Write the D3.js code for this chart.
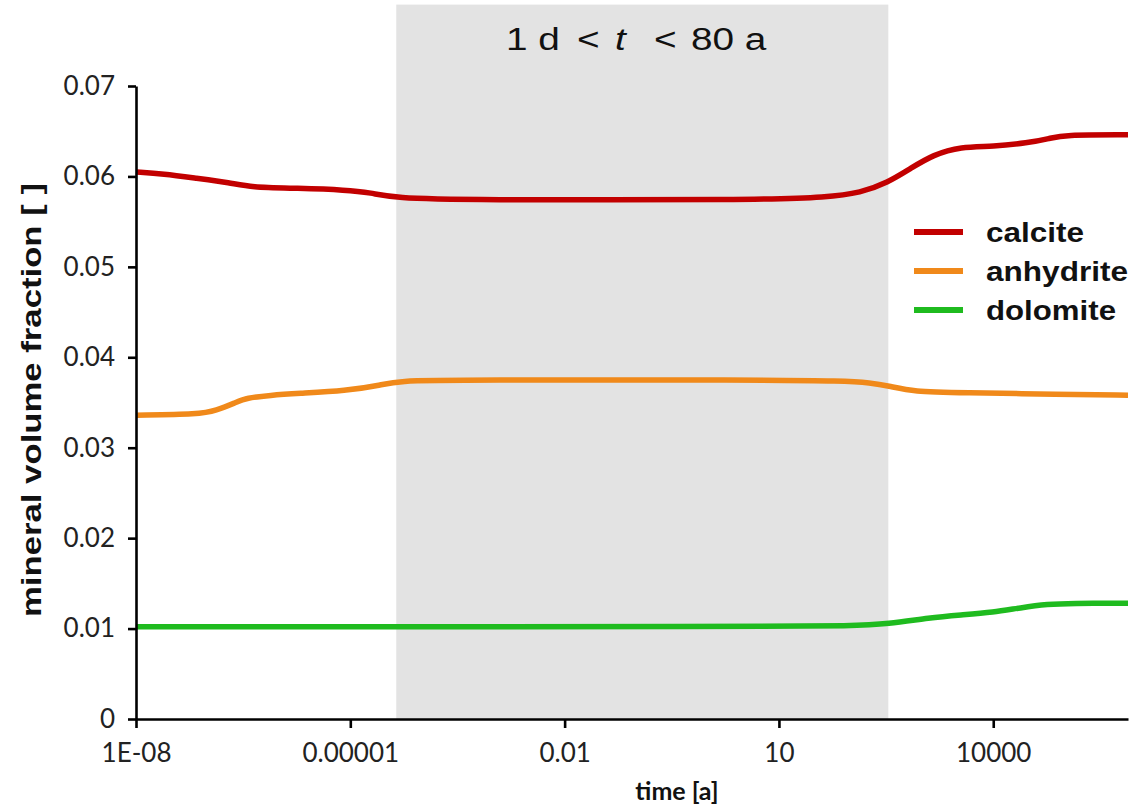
<!DOCTYPE html>
<html><head><meta charset="utf-8">
<script src="https://cdn.jsdelivr.net/npm/d3@7"></script>
<style>html,body{margin:0;padding:0;background:#fff;}svg{display:block;}</style>
</head><body>
<svg id="chart" width="1132" height="808"></svg>
<script>
// ---- data ----
const seriesNames = ["calcite", "anhydrite", "dolomite"];
const seriesColors = ["#c20000", "#f0891a", "#1fbb1f"];
const calcite = [
  [1e-8, 0.0605], [2.4e-8, 0.0603], [7e-8, 0.0598], [2.1e-7, 0.0593], [4e-7, 0.0588],
  [1.8e-6, 0.0587], [9e-6, 0.0585], [1.9e-5, 0.0582], [4.4e-5, 0.0576], [3.5e-4, 0.0574],
  [5.5, 0.0574], [47, 0.0577], [140, 0.0582], [330, 0.0593], [700, 0.0609],
  [1450, 0.0624], [3500, 0.0633], [1e4, 0.0633], [3e4, 0.0637], [6.3e4, 0.0642],
  [9.3e4, 0.0646], [7.7e5, 0.0646]
];
const anhydrite = [
  [1e-8, 0.0336], [7.9e-8, 0.0337], [1.3e-7, 0.0341], [2.5e-7, 0.0350], [3.5e-7, 0.0355],
  [7.6e-7, 0.0358], [1.8e-6, 0.0360], [8.9e-6, 0.0363], [2.6e-5, 0.0369], [4.5e-5, 0.0374],
  [3.5e-4, 0.0375], [5.5, 0.0375], [79, 0.0374], [190, 0.0372], [360, 0.0368],
  [760, 0.0362], [3500, 0.0361], [8.7e4, 0.0359], [7.7e5, 0.0358]
];
const dolomite = [
  [1e-8, 0.0102], [8, 0.0102], [100, 0.0103], [340, 0.0105], [1300, 0.0112],
  [3500, 0.0115], [1e4, 0.0118], [2.4e4, 0.0123], [5.9e4, 0.0127], [1.2e5, 0.0128],
  [7.7e5, 0.0128]
];
const xTickValues = [1e-8, 1e-5, 1e-2, 10, 1e4];
const xTickLabels = ["1E-08", "0.00001", "0.01", "10", "10000"];
const yTickValues = [0, 0.01, 0.02, 0.03, 0.04, 0.05, 0.06, 0.07];
const yTickLabels = ["0", "0.01", "0.02", "0.03", "0.04", "0.05", "0.06", "0.07"];
const shadeRange = [4.4e-5, 340];
const shadeTop = 0.079;
const xDomain = [1e-8, 7.7e5];
const yDomain = [0, 0.07];

// ---- layout ----
const svg = d3.select("#chart");
const x = d3.scaleLog().domain(xDomain).range([136, 1128]);
const y = d3.scaleLinear().domain(yDomain).range([719, 86]);

// shaded region
svg.append("rect")
  .attr("x", x(shadeRange[0]))
  .attr("y", y(shadeTop))
  .attr("width", x(shadeRange[1]) - x(shadeRange[0]))
  .attr("height", y(0) - y(shadeTop))
  .attr("fill", "#e3e3e3");

// lines
const line = d3.line().x(d => x(d[0])).y(d => y(d[1])).curve(d3.curveBasis);
[calcite, anhydrite, dolomite].forEach((s, i) => {
  svg.append("path").datum(s)
    .attr("d", line)
    .attr("fill", "none")
    .attr("stroke", seriesColors[i])
    .attr("stroke-width", 5.5)
    .attr("stroke-linejoin", "round")
    .attr("stroke-linecap", "butt");
});

// axes
const xAxis = d3.axisBottom(x).tickValues(xTickValues)
  .tickFormat((d, i) => xTickLabels[i]).tickSize(9).tickSizeOuter(0).tickPadding(16);
const gx = svg.append("g").attr("transform", `translate(0,${y(0)})`).call(xAxis);
const yAxis = d3.axisLeft(y).tickValues(yTickValues)
  .tickFormat((d, i) => yTickLabels[i]).tickSize(8).tickSizeOuter(0).tickPadding(13);
const gy = svg.append("g").attr("transform", `translate(${x(xDomain[0])},0)`).call(yAxis);
[gx, gy].forEach(g => {
  g.select(".domain").attr("stroke", "#000").attr("stroke-width", 2.6);
  g.selectAll(".tick line").attr("stroke", "#000").attr("stroke-width", 2.6);
  g.selectAll(".tick text").attr("font-family", "Lato, sans-serif")
    .attr("font-size", 26).attr("fill", "#222");
});
gx.selectAll(".tick text").attr("dy", "0.71em");

// axis titles
svg.append("text")
  .attr("x", 677).attr("y", 800)
  .attr("text-anchor", "middle")
  .attr("font-family", "Lato, sans-serif").attr("font-weight", "bold")
  .attr("font-size", 25).attr("fill", "#111")
  .text("time [a]");

svg.append("text")
  .attr("transform", "translate(41,400) rotate(-90)")
  .attr("text-anchor", "middle")
  .attr("font-family", "'Liberation Sans', Arial, sans-serif").attr("font-weight", "bold")
  .attr("font-size", 27).attr("fill", "#111")
  .attr("textLength", 434).attr("lengthAdjust", "spacingAndGlyphs")
  .text("mineral volume fraction [ ]");

// top annotation "1 d < t < 80 a"
const titleParts = [
  {t: "1 d", x: 506, it: false},
  {t: "<", x: 577, it: false},
  {t: "t", x: 615, it: true},
  {t: "<", x: 654, it: false},
  {t: "80 a", x: 691, it: false}
];
titleParts.forEach(p => {
  svg.append("text")
    .attr("transform", `translate(${p.x},50) scale(1.25,1)`)
    .attr("font-family", "'Liberation Sans', Arial, sans-serif")
    .attr("font-style", p.it ? "italic" : "normal")
    .attr("font-size", 31).attr("fill", "#111")
    .text(p.t);
});

// legend
const legendWidths = [98, 142, 130];
const legendY = [232, 271, 310];
seriesNames.forEach((n, i) => {
  svg.append("line")
    .attr("x1", 914).attr("x2", 963)
    .attr("y1", legendY[i]).attr("y2", legendY[i])
    .attr("stroke", seriesColors[i]).attr("stroke-width", 6);
  svg.append("text")
    .attr("x", 986).attr("y", legendY[i] + 10)
    .attr("font-family", "'Liberation Sans', Arial, sans-serif").attr("font-weight", "bold")
    .attr("font-size", 27).attr("fill", "#111")
    .attr("textLength", legendWidths[i]).attr("lengthAdjust", "spacingAndGlyphs")
    .text(n);
});
</script>
</body></html>
